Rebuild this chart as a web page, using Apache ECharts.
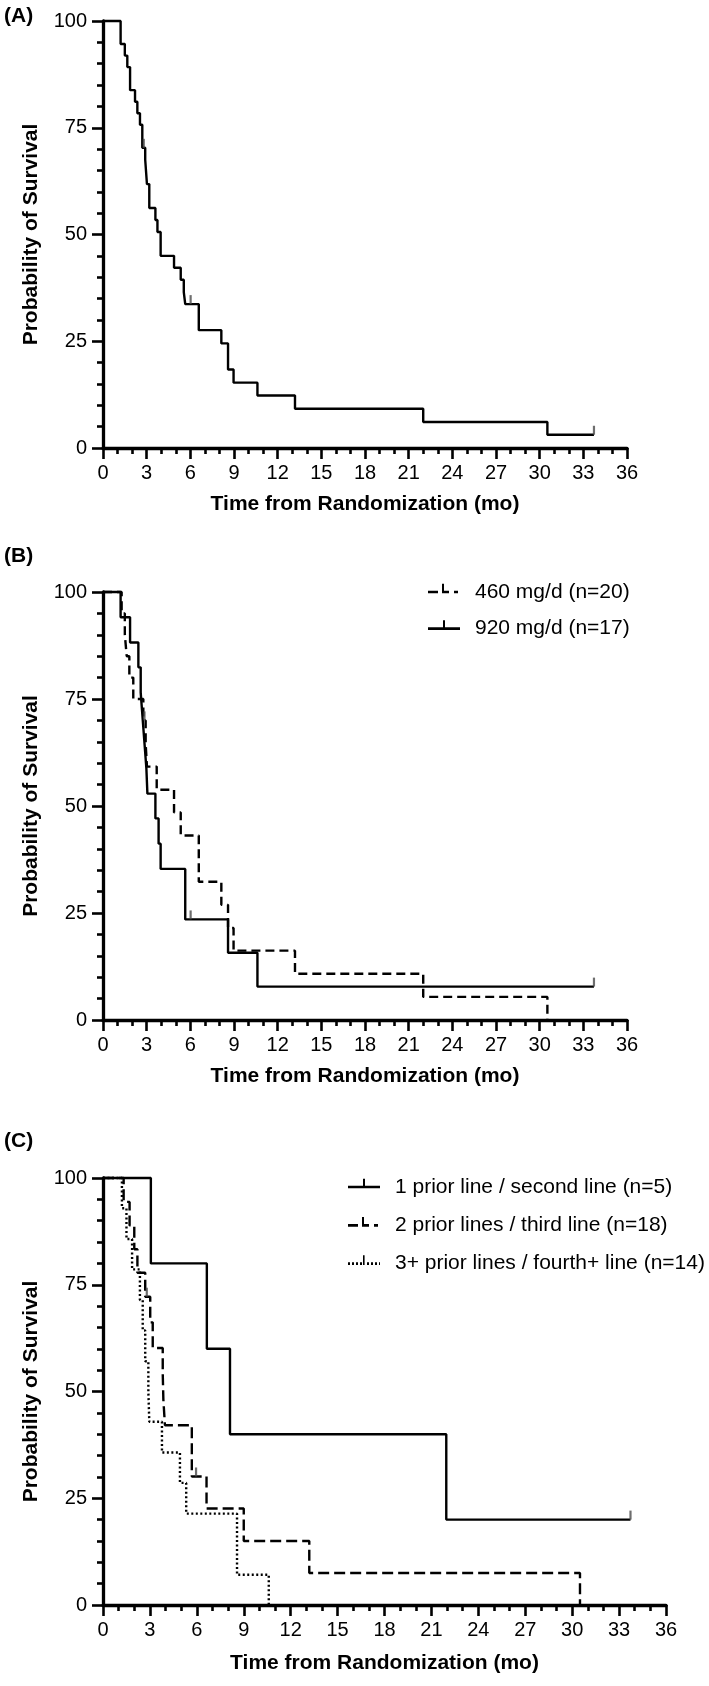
<!DOCTYPE html>
<html><head><meta charset="utf-8">
<script src="https://cdn.jsdelivr.net/npm/echarts@6/dist/echarts.min.js"></script>
<style>html,body{margin:0;padding:0;background:#fff}#c{width:709px;height:1686px}</style>
</head><body><div id="c"></div>
<script>
// ---------- DATA ----------
const xTickLabels = ['0','3','6','9','12','15','18','21','24','27','30','33','36'];
const yTickLabels = ['0','25','50','75','100'];
const xAxisTitle = 'Time from Randomization (mo)';
const yAxisTitle = 'Probability of Survival';
const panelLabels = ['(A)', '(B)', '(C)'];

// Panel A: all patients
const timeA = [0, 1.21, 1.5, 1.67, 1.86, 2.2, 2.36, 2.54, 2.7, 2.9, 3.02, 3.18, 3.6, 3.74, 3.96, 4.88, 5.34, 5.55, 5.65, 6.58, 8.13, 8.59, 8.97, 10.61, 13.19, 22.0, 30.53, 33.73];
const survA = [100, 94.6, 91.9, 89.2, 83.8, 81.1, 78.4, 75.7, 70.3, 67.5, 61.8, 56.2, 53.4, 50.6, 45.0, 42.2, 39.4, 36.5, 33.7, 27.6, 24.5, 18.4, 15.3, 12.3, 9.2, 6.1, 3.1, 3.1];
const censorTimeA = [2.8, 6.02, 33.73];
const censorSurvA = [70.3, 33.7, 3.1];

// Panel B: by dose
const nameB460 = '460 mg/d (n=20)';
const timeB460 = [0, 1.28, 1.5, 1.63, 1.81, 2.08, 2.77, 2.93, 3.02, 3.69, 4.88, 5.34, 6.58, 8.13, 8.59, 8.97, 13.19, 22.0, 30.53];
const survB460 = [100, 95, 90, 85, 80, 75, 70, 64.6, 59.2, 53.8, 48.5, 43.1, 32.3, 26.9, 21.5, 16.2, 10.8, 5.4, 0];
const censorTimeB460 = [2.85];
const censorSurvB460 = [70];

const nameB920 = '920 mg/d (n=17)';
const timeB920 = [0, 1.21, 1.86, 2.43, 2.59, 2.72, 2.85, 2.98, 3.05, 3.6, 3.82, 3.96, 5.65, 8.59, 10.61, 33.73];
const survB920 = [100, 94.1, 88.2, 82.4, 76.5, 70.6, 64.7, 58.8, 52.9, 47.1, 41.2, 35.3, 23.5, 15.7, 7.8, 7.8];
const censorTimeB920 = [6.02, 33.73];
const censorSurvB920 = [23.5, 7.8];

// Panel C: by line of therapy
const nameC1 = '1 prior line / second line (n=5)';
const timeC1 = [0, 3.06, 6.64, 8.12, 21.95, 33.73];
const survC1 = [100, 80, 60, 40, 20, 20];
const censorTimeC1 = [33.73];
const censorSurvC1 = [20];

const nameC2 = '2 prior lines / third line (n=18)';
const timeC2 = [0, 1.32, 1.7, 2.0, 2.2, 2.7, 3.02, 3.18, 3.82, 3.86, 3.96, 5.68, 6.62, 9.0, 13.19, 30.5];
const survC2 = [100, 94.4, 88.9, 83.3, 77.8, 72.2, 66.2, 60.2, 54.2, 48.1, 42.1, 30.1, 22.6, 15.0, 7.5, 0];
const censorTimeC2 = [2.8, 5.95];
const censorSurvC2 = [72.2, 30.1];

const nameC3 = '3+ prior lines / fourth+ line (n=14)';
const timeC3 = [0, 1.21, 1.5, 1.86, 2.36, 2.54, 2.7, 2.9, 2.96, 3.77, 4.92, 5.32, 8.57, 10.6];
const survC3 = [100, 92.9, 85.7, 78.6, 71.4, 64.3, 57.1, 50.0, 42.9, 35.7, 28.6, 21.4, 7.1, 0];

// ---------- CHART ----------
const FONT = '"Liberation Sans", Arial, Helvetica, sans-serif';
const xMin = Number(xTickLabels[0]), xMax = Number(xTickLabels[xTickLabels.length-1]);
const xInt = Number(xTickLabels[1]) - xMin;
const yMin = Number(yTickLabels[0]), yMax = Number(yTickLabels[yTickLabels.length-1]);
const yInt = Number(yTickLabels[1]) - yMin;

function xAxisCfg(gi, gap) {
  return {
    type: 'value', gridIndex: gi, min: xMin, max: xMax, interval: xInt,
    name: xAxisTitle, nameLocation: 'middle', nameGap: gap,
    nameTextStyle: {fontFamily: FONT, fontSize: 21, fontWeight: 'bold', color: '#000'},
    axisLine: {show: true, onZero: false, lineStyle: {color: '#000', width: 3.3}},
    axisTick: {show: true, length: 11, lineStyle: {color: '#000', width: 2.6}},
    minorTick: {show: true, splitNumber: 3, length: 6, lineStyle: {color: '#000', width: 2.6}},
    axisLabel: {show: true, margin: 15, fontFamily: FONT, fontSize: 20, color: '#000',
      showMinLabel: true, showMaxLabel: true},
    splitLine: {show: false}, minorSplitLine: {show: false}
  };
}
function yAxisCfg(gi) {
  return {
    type: 'value', gridIndex: gi, min: yMin, max: yMax, interval: yInt,
    name: yAxisTitle, nameLocation: 'middle', nameGap: 61, nameRotate: 90,
    nameTextStyle: {fontFamily: FONT, fontSize: 21, fontWeight: 'bold', color: '#000'},
    axisLine: {show: true, onZero: false, lineStyle: {color: '#000', width: 3.3}},
    axisTick: {show: true, length: 11, lineStyle: {color: '#000', width: 2.6}},
    minorTick: {show: true, splitNumber: 5, length: 6, lineStyle: {color: '#000', width: 2.6}},
    axisLabel: {show: true, margin: 16, fontFamily: FONT, fontSize: 20, color: '#000',
      showMinLabel: true, showMaxLabel: true},
    splitLine: {show: false}, minorSplitLine: {show: false}
  };
}
function km(name, t, s, gi, dash) {
  return {
    type: 'line', name: name, xAxisIndex: gi, yAxisIndex: gi, step: 'end',
    symbol: 'none', showSymbol: false, clip: false, z: 3,
    data: t.map((v, i) => [v, s[i]]),
    lineStyle: {color: '#000', width: 2.4, type: dash, cap: 'butt'},
    itemStyle: {color: '#000'}, emphasis: {disabled: true}, animation: false
  };
}
function cens(t, s, gi, name) {
  return {
    type: 'scatter', name: name, xAxisIndex: gi, yAxisIndex: gi, z: 4,
    symbol: 'rect', symbolSize: [2.2, 9], symbolOffset: [0, -4.5], clip: false,
    data: t.map((v, i) => [v, s[i]]),
    itemStyle: {color: '#4a4a4a'}, emphasis: {disabled: true}, animation: false
  };
}
const solidIcon = 'path://M0,7.5h32v2.6h-32z M15,0.5h2v7h-2z M42,17.5L42,0L42,17.5z';
const dashedIcon = 'path://M0,7.5h10v2.6h-10z M14,7.5h7v2.6h-7z M14,0.5h2v7h-2z M26,7.5h4v2.6h-4z M42,17.5L42,0L42,17.5z';
const dottedIcon = 'path://M0,7.5h2v2.6h-2z M4,7.5h2v2.6h-2z M8,7.5h2v2.6h-2z M12,7.5h2v2.6h-2z M15,0.5h1.6v9.6h-1.6z M19,7.5h2v2.6h-2z M23,7.5h2v2.6h-2z M27,7.5h2v2.6h-2z M31,7.5h1v2.6h-1z M42,17.5L42,0L42,17.5z';

const legendBase = {
  orient: 'vertical', selectedMode: false, itemWidth: 42, itemHeight: 17.5,
  itemStyle: {borderWidth: 0}, padding: 0,
  textStyle: {fontFamily: FONT, fontSize: 21, color: '#000', lineHeight: 22}
};

const option = {
  backgroundColor: '#fff',
  animation: false,
  grid: [
    {left: 103, top: 21, width: 524, height: 427, outerBoundsMode: 'none', containLabel: false},
    {left: 103, top: 592, width: 524, height: 428, outerBoundsMode: 'none', containLabel: false},
    {left: 103, top: 1178, width: 563, height: 427, outerBoundsMode: 'none', containLabel: false}
  ],
  xAxis: [xAxisCfg(0, 46), xAxisCfg(1, 46), xAxisCfg(2, 48)],
  yAxis: [yAxisCfg(0), yAxisCfg(1), yAxisCfg(2)],
  legend: [
    Object.assign({}, legendBase, {left: 428, top: 581, itemGap: 14.6,
      data: [{name: nameB460, icon: dashedIcon}, {name: nameB920, icon: solidIcon}]}),
    Object.assign({}, legendBase, {left: 348, top: 1176, itemGap: 16.3,
      data: [{name: nameC1, icon: solidIcon}, {name: nameC2, icon: dashedIcon}, {name: nameC3, icon: dottedIcon}]})
  ],
  graphic: [
    {type: 'text', left: 4, top: 6, style: {text: panelLabels[0], font: 'bold 21px ' + FONT, fill: '#000'}},
    {type: 'text', left: 4, top: 546, style: {text: panelLabels[1], font: 'bold 21px ' + FONT, fill: '#000'}},
    {type: 'text', left: 4, top: 1131, style: {text: panelLabels[2], font: 'bold 21px ' + FONT, fill: '#000'}}
  ],
  series: [
    km('All patients', timeA, survA, 0, 'solid'),
    cens(censorTimeA, censorSurvA, 0, 'censA'),
    km(nameB460, timeB460, survB460, 1, [9, 5]),
    km(nameB920, timeB920, survB920, 1, 'solid'),
    cens(censorTimeB460, censorSurvB460, 1, 'censB460'),
    cens(censorTimeB920, censorSurvB920, 1, 'censB920'),
    km(nameC1, timeC1, survC1, 2, 'solid'),
    km(nameC2, timeC2, survC2, 2, [11, 5]),
    km(nameC3, timeC3, survC3, 2, [2, 2.5]),
    cens(censorTimeC1, censorSurvC1, 2, 'censC1'),
    cens(censorTimeC2, censorSurvC2, 2, 'censC2')
  ]
};
const chart = echarts.init(document.getElementById('c'), null, {renderer: 'canvas', width: 709, height: 1686});
chart.setOption(option);
</script>
</body></html>
